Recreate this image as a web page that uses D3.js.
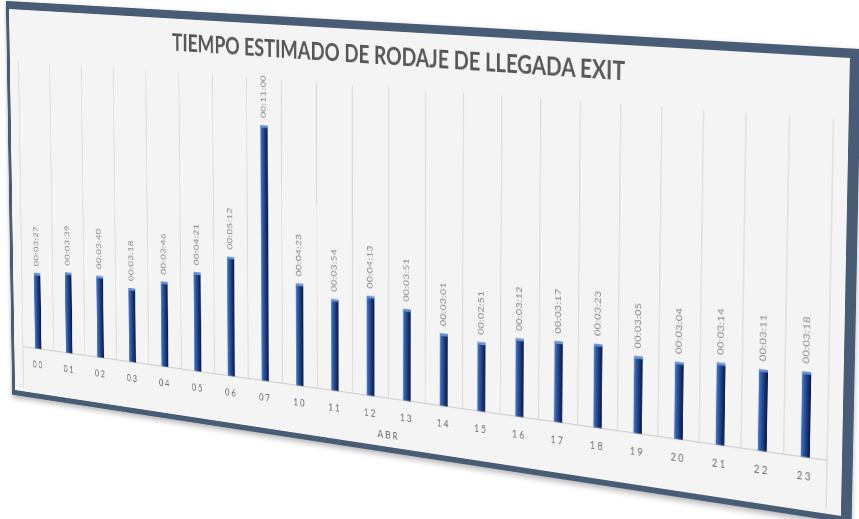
<!DOCTYPE html>
<html><head><meta charset="utf-8">
<script src="https://cdn.jsdelivr.net/npm/d3@7/dist/d3.min.js"></script>
<style>
html,body{margin:0;padding:0;background:#fff;overflow:hidden;width:859px;height:519px;}
#wrap{position:absolute;left:0;top:0;transform-origin:0 0;}
svg{display:block;overflow:visible;}
</style></head><body>
<div id="wrap"></div>
<script>
// ---- data ----
const chartTitle = "TIEMPO ESTIMADO DE RODAJE DE LLEGADA EXIT";
const groupLabel = "ABR";
const hours = ["00","01","02","03","04","05","06","07","10","11","12","13","14","15","16","17","18","19","20","21","22","23"];
const durationLabels = ["00:03:27","00:03:39","00:03:40","00:03:18","00:03:46","00:04:21","00:05:12","00:11:00","00:04:23","00:03:54","00:04:13","00:03:51","00:03:01","00:02:51","00:03:12","00:03:17","00:03:23","00:03:05","00:03:04","00:03:14","00:03:11","00:03:18"];
const seconds = [207,219,220,198,226,261,312,660,263,234,253,231,181,171,192,197,203,185,184,194,191,198];
const valueMax = 780;

// ---- flat layout ----
const W = 1200, H = 440;
const bl = 5, bt = 9, br = 13, bb = 6, pad = 12;
const SW = W + bl + br + 2*pad, SH = H + bt + bb + 2*pad;

const svg = d3.select("#wrap").append("svg").attr("width", SW).attr("height", SH);
const defs = svg.append("defs");
const sh = defs.append("filter").attr("id","shadow").attr("x","-5%").attr("y","-10%").attr("width","110%").attr("height","125%");
sh.append("feDropShadow").attr("dx",0).attr("dy",3).attr("stdDeviation",3).attr("flood-color","#000").attr("flood-opacity",0.3);
const grad = defs.append("linearGradient").attr("id","barGrad").attr("x1","0").attr("x2","1").attr("y1","0").attr("y2","0");
[["0%","#4a7bcc"],["30%","#2c58a8"],["60%","#1c3a7c"],["100%","#0b1838"]].forEach(([o,c]) => grad.append("stop").attr("offset",o).attr("stop-color",c));

const root = svg.append("g").attr("transform",`translate(${pad},${pad})`);
root.append("rect").attr("x",0).attr("y",0).attr("width",W+bl+br).attr("height",H+bt+bb)
  .attr("fill","#4a5b75").attr("filter","url(#shadow)");
const g = root.append("g").attr("transform",`translate(${bl},${bt})`);
g.append("rect").attr("width",W).attr("height",H).attr("fill","#f4f4f4");

const x = d3.scaleBand().domain(hours).range([15, 1182]).paddingInner(0.79).paddingOuter(0.395);
const y = d3.scaleLinear().domain([0, valueMax]).range([0.881*H, 0.133*H]);
const [r0, r1] = x.range();
const step = x.step();

// gridlines at category boundaries
g.append("g").selectAll("line").data(d3.range(hours.length+1)).join("line")
  .attr("x1", i => r0 + i*step).attr("x2", i => r0 + i*step)
  .attr("y1", y(valueMax)).attr("y2", y(0))
  .attr("stroke","#d9d9d9").attr("stroke-width",1.3);
// baseline and category box
g.append("line").attr("x1",r0).attr("x2",r1).attr("y1",y(0)).attr("y2",y(0)).attr("stroke","#cfcfcf").attr("stroke-width",1.3);
g.append("g").selectAll("line").data([r0, r1]).join("line")
  .attr("x1",d=>d).attr("x2",d=>d).attr("y1",y(0)).attr("y2",0.99*H)
  .attr("stroke","#d4d4d4").attr("stroke-width",1.3);

// bars
const bars = g.append("g").selectAll("g").data(hours).join("g");
bars.append("rect")
  .attr("x", d => x(d)).attr("width", x.bandwidth())
  .attr("y", (d,i) => y(seconds[i])).attr("height", (d,i) => y(0) - y(seconds[i]))
  .attr("fill","url(#barGrad)");
bars.append("rect")
  .attr("x", d => x(d)).attr("width", x.bandwidth())
  .attr("y", (d,i) => y(seconds[i])).attr("height", 2.5)
  .attr("fill","#6b97df");

// data labels
g.append("g").selectAll("text").data(hours).join("text")
  .attr("transform", (d,i) => `translate(${x(d)+x.bandwidth()/2},${y(seconds[i]) - 8}) rotate(-90)`)
  .attr("text-anchor","start").attr("dominant-baseline","middle")
  .attr("font-family","Lato, 'Open Sans', sans-serif").attr("font-size",11).attr("fill","#808080")
  .attr("letter-spacing",0.3)
  .text((d,i) => durationLabels[i]);

// category axis
const axis = g.append("g").attr("transform",`translate(0,${y(0)})`)
  .call(d3.axisBottom(x).tickSize(0).tickPadding(0));
axis.select(".domain").remove();
axis.selectAll("text").attr("y", 0.922*H - y(0)).attr("dy","0.35em")
  .attr("font-family","Lato, 'Open Sans', sans-serif").attr("font-size",12).attr("fill","#6a6a6a")
  .attr("letter-spacing",3);

g.append("text").attr("x",(r0+r1)/2).attr("y",0.971*H).attr("dy","0.35em")
  .attr("text-anchor","middle").attr("font-family","Lato, 'Open Sans', sans-serif")
  .attr("font-size",12).attr("fill","#6a6a6a").attr("letter-spacing",3).text(groupLabel);

// title
g.append("text").attr("x",596 - 326).attr("y",35).attr("text-anchor","start")
  .attr("font-family","Lato, 'Open Sans', sans-serif").attr("font-weight","bold")
  .attr("font-size",27).attr("fill","#575757")
  .attr("textLength",652).attr("lengthAdjust","spacingAndGlyphs")
  .text(chartTitle);

// ---- perspective: map flat chart area onto the photographed quad ----
function homography(src, dst){
  const A=[], b=[];
  for(let i=0;i<4;i++){
    const [sx,sy]=src[i], [u,v]=dst[i];
    A.push([sx,sy,1,0,0,0,-u*sx,-u*sy]); b.push(u);
    A.push([0,0,0,sx,sy,1,-v*sx,-v*sy]); b.push(v);
  }
  const n=8;
  for(let c=0;c<n;c++){
    let p=c; for(let r=c+1;r<n;r++) if(Math.abs(A[r][c])>Math.abs(A[p][c])) p=r;
    [A[c],A[p]]=[A[p],A[c]]; [b[c],b[p]]=[b[p],b[c]];
    for(let r=0;r<n;r++){ if(r===c) continue; const f=A[r][c]/A[c][c]; for(let k=c;k<n;k++) A[r][k]-=f*A[c][k]; b[r]-=f*b[c]; }
  }
  return b.map((v,i)=>v/A[i][i]);
}
const ox = pad + bl, oy = pad + bt;
const src = [[ox,oy],[ox+W,oy],[ox+W,oy+H],[ox,oy+H]];
const dst = [[9,9],[850,58],[841,516],[15,390]];
const [a,b_,c,d,e,f,gg,hh] = homography(src,dst);
d3.select("#wrap").style("transform",`matrix3d(${a},${d},0,${gg},${b_},${e},0,${hh},0,0,1,0,${c},${f},0,1)`);
</script>
</body></html>
